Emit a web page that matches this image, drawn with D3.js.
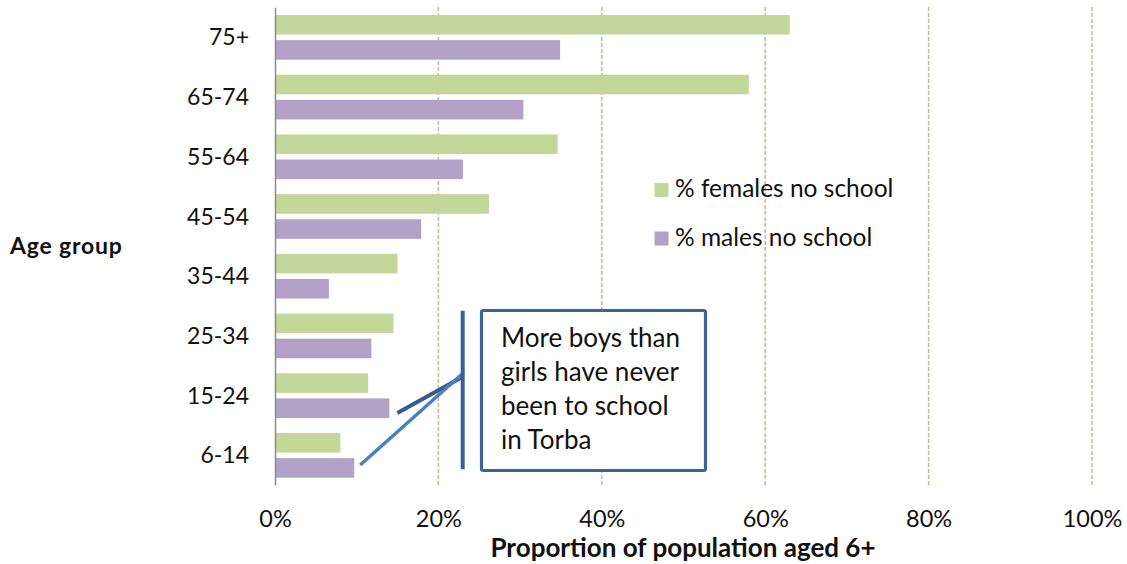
<!DOCTYPE html>
<html>
<head>
<meta charset="utf-8">
<style>
  body { margin: 0; background: #fff; }
  svg { display: block; font-family: Lato, 'Open Sans', sans-serif; }
</style>
</head>
<body>
<svg width="1127" height="564"></svg>
<script src="https://d3js.org/d3.v7.min.js"></script>
<script>
// age groups, top to bottom as drawn
let ageGroups = ["75+", "65-74", "55-64", "45-54", "35-44", "25-34", "15-24", "6-14"];
// % with no schooling
let females = [63.0, 58.0, 34.6, 26.2, 15.0, 14.5, 11.4, 8.0];
let males = [34.9, 30.4, 23.0, 17.9, 6.6, 11.8, 14.0, 9.7];
let seriesNames = ["% females no school", "% males no school"];
let xTicks = [0, 0.2, 0.4, 0.6, 0.8, 1];

let colors = ["#C4D79B", "#B3A2C7"];

let svg = d3.select("svg");

let x = d3.scaleLinear().domain([0, 1]).range([275, 1092]);

let y0 = d3.scaleBand().domain(ageGroups).range([7.3, 485]);
let y1 = d3.scaleBand().domain(["f", "m"])
  .range([7.7, y0.bandwidth() - 7.3])
  .paddingInner(0.22);

// gridlines
svg.append("g")
  .selectAll("line")
  .data(xTicks.filter(d => d > 0))
  .join("line")
  .attr("x1", d => x(d))
  .attr("x2", d => x(d))
  .attr("y1", 7)
  .attr("y2", 485)
  .style("stroke", "#C9BA8E")
  .style("stroke-width", 1.5)
  .style("stroke-dasharray", "4,2");

let rows = ageGroups.map((a, i) => ({ age: a, f: females[i], m: males[i] }));

let groups = svg.append("g")
  .selectAll("g")
  .data(rows)
  .join("g")
  .attr("transform", d => `translate(0,${y0(d.age)})`);

groups.selectAll("rect")
  .data(d => [{ k: "f", v: d.f }, { k: "m", v: d.m }])
  .join("rect")
  .attr("x", x(0))
  .attr("y", d => y1(d.k))
  .attr("width", d => x(d.v / 100) - x(0))
  .attr("height", y1.bandwidth())
  .style("fill", (d, i) => colors[i]);

// y axis
let yAxis = svg.append("g")
  .attr("transform", `translate(${x(0)},0)`)
  .call(d3.axisLeft(y0).tickSize(0).tickPadding(26));
yAxis.select(".domain").style("stroke", "#8C8C8C").style("stroke-width", 1.5);
yAxis.selectAll("text")
  .style("font-family", "Lato, sans-serif")
  .style("font-size", "23px")
  .style("fill", "#111")
  .attr("dy", "0.36em");

// x axis
let xAxis = svg.append("g")
  .attr("transform", "translate(0,485)")
  .call(d3.axisBottom(x).tickValues(xTicks).tickFormat(d3.format(".0%")).tickSize(0).tickPadding(25));
xAxis.select(".domain").remove();
xAxis.selectAll("text")
  .style("font-family", "Lato, sans-serif")
  .style("font-size", "23.5px")
  .style("fill", "#111");

// axis titles
svg.append("text")
  .attr("x", 10)
  .attr("y", 254)
  .text("Age group")
  .style("font-weight", "bold")
  .style("font-size", "23px")
  .style("letter-spacing", "0.8px")
  .style("fill", "#111");

svg.append("text")
  .attr("x", 683)
  .attr("y", 557)
  .attr("text-anchor", "middle")
  .text("Proportion of population aged 6+")
  .style("font-weight", "bold")
  .style("font-size", "26px")
  .style("fill", "#111");

// legend
let legend = svg.append("g")
  .selectAll("g")
  .data(seriesNames)
  .join("g")
  .attr("transform", (d, i) => `translate(654.5,${183 + i * 48.5})`);
legend.append("rect")
  .attr("width", 14)
  .attr("height", 14)
  .style("fill", (d, i) => colors[i]);
legend.append("text")
  .attr("x", 20.5)
  .attr("y", 14)
  .text(d => d)
  .style("font-size", "24.5px")
  .style("fill", "#111");

// callout
let mIdx = ageGroups.indexOf("15-24");
let cIdx = ageGroups.indexOf("6-14");
svg.append("line")
  .attr("x1", x(males[mIdx] / 100) + 8)
  .attr("y1", y0("15-24") + y1("m") + y1.bandwidth() * 0.75)
  .attr("x2", 462.7)
  .attr("y2", 376.7)
  .style("stroke", "#375C8C")
  .style("stroke-width", 4);
svg.append("line")
  .attr("x1", x(males[cIdx] / 100) + 6)
  .attr("y1", y0("6-14") + y1("m") + y1.bandwidth() * 0.35)
  .attr("x2", 463.5)
  .attr("y2", 372.7)
  .style("stroke", "#4A80C0")
  .style("stroke-width", 3.5);
svg.append("line")
  .attr("x1", 462.7)
  .attr("x2", 462.7)
  .attr("y1", 310.7)
  .attr("y2", 469.3)
  .style("stroke", "#3A6194")
  .style("stroke-width", 4);

svg.append("rect")
  .attr("x", 481.5)
  .attr("y", 310.5)
  .attr("width", 224)
  .attr("height", 160)
  .attr("rx", 2)
  .style("fill", "#fff")
  .style("stroke", "#3E6496")
  .style("stroke-width", 3.2);

let noteLines = ["More boys than", "girls have never", "been to school", "in Torba"];
svg.append("g")
  .selectAll("text")
  .data(noteLines)
  .join("text")
  .attr("x", 501)
  .attr("y", (d, i) => 347 + i * 34)
  .text(d => d)
  .style("font-size", "26px")
  .style("fill", "#111");
</script>
</body>
</html>
